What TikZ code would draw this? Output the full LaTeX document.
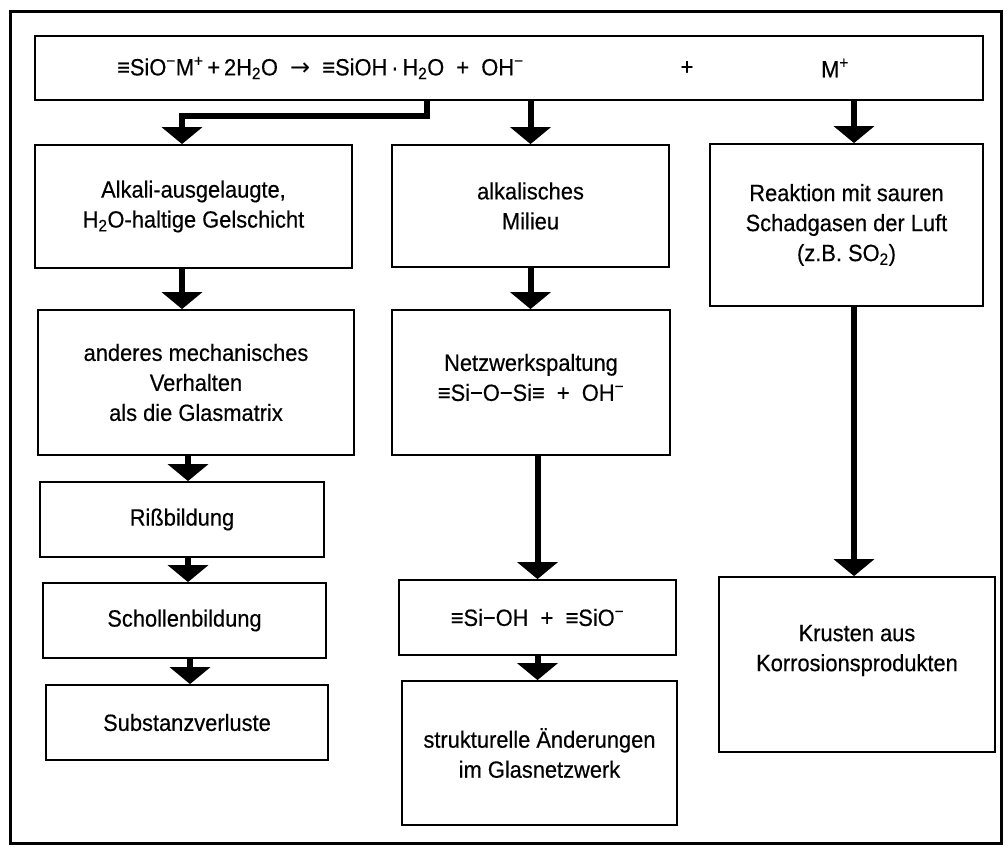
\documentclass[tikz,border=0pt]{standalone}
\usepackage{fontspec}
\setmainfont[FakeStretch=0.93,FakeBold=0.4]{Liberation Sans}
\newfontfamily\dvfont{DejaVu Sans}
\usetikzlibrary{arrows.meta,fit}
\begin{document}
\begin{tikzpicture}[x=1pt,y=-1pt,
  box/.style={draw,line width=1.8pt,inner sep=0pt},
  txt/.style={align=center,font=\fontsize{23.5}{30}\selectfont,inner sep=0pt},
  arr/.style={line width=6pt,line join=miter,-{Triangle[width=40pt,length=17pt]}},
]
\useasboundingbox (0,0) rectangle (1007,850);
\draw[line width=3pt] (10,12) rectangle (1001,843);

% boxes
\node[box, fit={(35,36) (983,100)}] (top) {};
\node[box, fit={(35,145) (352,268)}] (b1) {};
\node[box, fit={(38,310) (354,455)}] (b2) {};
\node[box, fit={(40,482) (324,557)}] (b3) {};
\node[box, fit={(43,583) (326,658)}] (b4) {};
\node[box, fit={(46,685) (328,760)}] (b5) {};
\node[box, fit={(392,145) (669,267)}] (c1) {};
\node[box, fit={(392,310) (670,455)}] (c2) {};
\node[box, fit={(399,580) (676,655)}] (c3) {};
\node[box, fit={(402,681) (677,825)}] (c4) {};
\node[box, fit={(710,144) (983,306)}] (d1) {};
\node[box, fit={(719,577) (995,752)}] (d2) {};

% texts
\node[txt, anchor=west] (eq) at (117,68) {≡SiO\textsuperscript{−}M\textsuperscript{+}\,+\,2H\textsubscript{2}O\ \ {\dvfont\fontsize{24}{29}\selectfont →}\ \ ≡SiOH\,·\,H\textsubscript{2}O\ \ +\ \ OH\textsuperscript{−}};
\node[txt] (plus) at (687,68) {+};
\node[txt] (mplus) at (835,68) {M\textsuperscript{+}};
\node[txt] (tb1) at (b1.center) {Alkali-ausgelaugte,\\H\textsubscript{2}O-haltige Gelschicht};
\node[txt] (tb2) at (b2.center) {anderes mechanisches\\Verhalten\\als die Glasmatrix};
\node[txt] (tb3) at (b3.center) {Rißbildung};
\node[txt] (tb4) at (b4.center) {Schollenbildung};
\node[txt] (tb5) at (b5.center) {Substanzverluste};
\node[txt] (tc1) at (c1.center) {alkalisches\\Milieu};
\node[txt] (tc2) at ([yshift=5pt]c2.center) {Netzwerkspaltung\\≡Si−O−Si≡\ \ +\ \ OH\textsuperscript{−}};
\node[txt] (tc3) at (c3.center) {≡Si−OH\ \ +\ \ ≡SiO\textsuperscript{−}};
\node[txt] (tc4) at (c4.center) {strukturelle Änderungen\\im Glasnetzwerk};
\node[txt] (td1) at (d1.center) {Reaktion mit sauren\\Schadgasen der Luft\\(z.B. SO\textsubscript{2})};
\node[txt] (td2) at ([yshift=14pt]d2.center) {Krusten aus\\Korrosionsprodukten};

% connectors
\draw[arr] ([xshift=-82pt]top.south) -- ++(0,15) -| ([xshift=-11.5pt]b1.north);
\coordinate (a1) at ([xshift=-11.5pt]b1.south);
\draw[arr] (a1) -- (a1 |- b2.north);
\coordinate (a2) at ([xshift=-8pt]b2.south);
\draw[arr] (a2) -- (a2 |- b3.north);
\coordinate (a3) at ([xshift=6pt]b3.south);
\draw[arr] (a3) -- (a3 |- b4.north);
\coordinate (a4) at ([xshift=5.5pt]b4.south);
\draw[arr] (a4) -- (a4 |- b5.north);

\coordinate (k0) at ([xshift=21.5pt]top.south);
\draw[arr] (k0) -- (k0 |- c1.north);
\draw[arr] (c1.south) -- (c1.south |- c2.north);
\coordinate (k2) at (c3.north |- c2.south);
\draw[arr] (k2) -- (c3.north);
\draw[arr] (c3.south) -- (c3.south |- c4.north);

\coordinate (m0) at ([xshift=345pt]top.south);
\draw[arr] (m0) -- (m0 |- d1.north);
\coordinate (m1) at ([xshift=7.5pt]d1.south);
\draw[arr] (m1) -- (m1 |- d2.north);
\end{tikzpicture}
\end{document}
